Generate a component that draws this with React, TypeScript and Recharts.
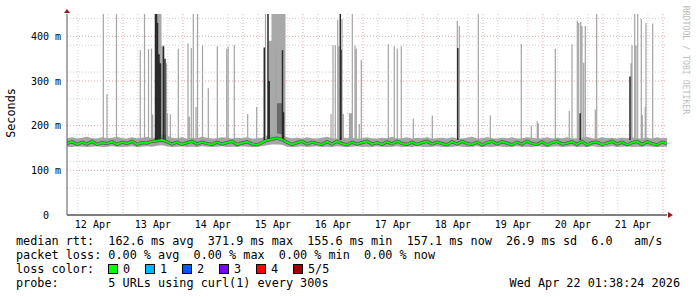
import React from 'react';
import {
  ComposedChart, Line, Area, XAxis, YAxis, CartesianGrid, ReferenceDot,
} from 'recharts';

// time axis in hours since 12 Apr 00:00
const START_H = 1.64;
const END_H = 241.64;
const STEP_H = 2;

const dayLabels = ['12 Apr', '13 Apr', '14 Apr', '15 Apr', '16 Apr', '17 Apr', '18 Apr', '19 Apr', '20 Apr', '21 Apr'];
const dayLabelHours = [12, 36, 60, 84, 108, 132, 156, 180, 204, 228];
const yTicks = [0, 100, 200, 300, 400];
const yTickLabels = ['0  ', '100 m', '200 m', '300 m', '400 m'];

const medianRtt = [
  160, 164, 158, 163, 159, 165, 158, 162, 160, 164,
  158, 163, 160, 165, 158, 162, 161, 165, 166, 168,
  164, 159, 163, 158, 162, 165, 159, 163, 160, 158,
  163, 159, 162, 165, 158, 161, 164, 159, 157, 162,
  167, 170, 172, 169, 163, 158, 162, 165, 159, 163,
  160, 158, 164, 159, 165, 160, 157, 163, 159, 162,
  165, 159, 162, 158, 164, 159, 165, 160, 158, 163,
  158, 162, 165, 159, 163, 160, 157, 164, 159, 165,
  160, 158, 163, 157, 162, 165, 159, 164, 161, 157,
  163, 159, 165, 160, 158, 164, 157, 162, 165, 159,
  161, 164, 158, 165, 157, 162, 163, 158, 161, 165,
  159, 163, 157, 162, 165, 158, 164, 160, 157, 163,
  160,
];
const smokeLow = [
  153, 152, 154, 153, 152, 153, 154, 152, 153, 154,
  153, 152, 153, 154, 152, 153, 154, 153, 155, 156,
  154, 152, 153, 154, 152, 153, 152, 154, 153, 152,
  153, 154, 152, 153, 152, 154, 153, 152, 153, 154,
  156, 158, 158, 157, 153, 152, 153, 154, 152, 153,
  154, 152, 153, 152, 154, 153, 152, 153, 154, 152,
  153, 152, 154, 153, 152, 153, 154, 152, 153, 152,
  154, 153, 152, 153, 154, 152, 153, 152, 154, 153,
  152, 153, 154, 152, 153, 152, 154, 153, 152, 153,
  154, 152, 153, 152, 154, 153, 152, 153, 154, 152,
  153, 154, 152, 153, 152, 154, 153, 152, 153, 154,
  152, 153, 154, 152, 153, 152, 154, 153, 152, 153,
  153,
];
const smokeHigh = [
  172, 174, 171, 173, 175, 172, 171, 174, 172, 173,
  175, 172, 171, 174, 172, 173, 175, 172, 176, 180,
  178, 173, 172, 174, 171, 173, 172, 175, 173, 171,
  172, 174, 173, 171, 173, 172, 174, 171, 172, 173,
  178, 182, 183, 180, 174, 172, 173, 171, 174, 172,
  171, 173, 175, 172, 171, 174, 172, 173, 171, 172,
  174, 172, 171, 173, 172, 175, 171, 172, 174, 171,
  173, 172, 174, 171, 172, 173, 171, 174, 172, 171,
  173, 175, 171, 172, 174, 172, 171, 173, 172, 174,
  171, 172, 174, 173, 171, 172, 174, 171, 173, 172,
  174, 171, 172, 173, 175, 172, 171, 174, 172, 173,
  171, 173, 172, 174, 171, 172, 173, 171, 174, 172,
  173,
];

// [hour, top value]
const lightSpikes: [number, number][] = [
  [16.16, 450], [17.64, 271], [21.44, 450], [30.96, 369], [32.64, 450], [34.24, 371], [35.44, 373], [35.92, 225],
  [39.64, 380], [40.44, 380], [41.44, 340], [41.76, 228], [42.96, 226], [46.16, 372], [50.04, 384], [50.56, 220],
  [51.36, 374], [52.16, 450], [53.24, 242], [53.84, 450], [55.84, 380], [58.16, 284], [61.76, 378], [65.52, 372],
  [66.12, 377], [68.56, 380], [73.92, 226], [77.52, 242], [81.04, 450], [85.24, 380], [107.24, 226], [108.04, 380],
  [108.96, 380], [109.92, 437], [110.44, 378], [111.64, 439], [112.16, 226], [114.64, 228], [115.04, 228], [115.44, 228],
  [115.76, 450], [116.84, 380], [117.36, 372], [118.56, 204], [119.36, 347], [130.16, 383], [132.56, 378], [133.76, 372],
  [135.36, 378], [140.16, 216], [147.76, 223], [157.76, 435], [158.56, 423], [166.16, 450], [170.96, 223], [183.36, 383],
  [187.36, 200], [189.76, 210], [190.16, 205], [196.96, 372], [202.56, 233], [203.64, 382], [205.76, 435], [206.32, 430],
  [207.12, 432], [207.64, 423], [208.32, 341], [208.96, 423], [212.96, 236], [213.52, 450], [227.24, 340], [227.64, 380],
  [228.72, 450], [229.24, 380], [229.92, 450], [231.36, 439], [231.76, 224], [232.96, 242], [233.24, 430], [235.92, 429],
];
const darkSpikes: [number, number][] = [
  [37.04, 450], [37.44, 450], [37.84, 430], [38.44, 360], [39.04, 340], [40.16, 377], [40.84, 350],
  [80.56, 375], [82.04, 450], [82.52, 300], [87.84, 369], [88.24, 230], [110.96, 450], [111.24, 370],
  [157.96, 374], [206.92, 228], [226.84, 310],
];
// [from hour, to hour, low, high]
const lightBursts: [number, number, number, number][] = [
  [37.04, 39.44, 165, 450], [82.24, 83.44, 165, 390], [83.44, 89.04, 165, 450],
];
const midBursts: [number, number, number, number][] = [
  [38.04, 39.24, 165, 300], [85.64, 88.04, 165, 250],
];

const SPIKE_BASE = 168;

const mainData = medianRtt.map((m, i) => ({
  t: START_H + i * STEP_H,
  median: m,
  smoke: [smokeLow[i], smokeHigh[i]],
}));
const spikeLine = (list: [number, number][]) =>
  list.flatMap(([t, top]) => [{ t, v: SPIKE_BASE }, { t, v: top }, { t, v: null }]);
const burstArea = (list: [number, number, number, number][]) =>
  list.flatMap(([a, b, lo, hi]) => [{ t: a, r: [lo, hi] }, { t: b, r: [lo, hi] }, { t: b, r: null }]);

const minorX: number[] = [];
const majorX: number[] = [];
for (let h = 6; h < END_H; h += 6) (h % 24 === 0 ? majorX : minorX).push(h);
const minorY: number[] = [];
for (let v = 20; v <= 440; v += 20) if (v % 100 !== 0) minorY.push(v);
const majorY = [100, 200, 300, 400];

const lossColors = [
  { label: '0', color: '#00ff00' },
  { label: '1', color: '#00b8ff' },
  { label: '2', color: '#0059ff' },
  { label: '3', color: '#7e00ff' },
  { label: '4', color: '#ff0000' },
  { label: '5/5', color: '#a10000' },
];

const MONO = '"DejaVu Sans Mono", monospace';

const YTick = (props: any) => {
  const { x, y, payload } = props;
  const idx = yTicks.indexOf(payload.value);
  return (
    <text x={x} y={y} textAnchor="end" dominantBaseline="central" fontFamily={MONO} fontSize={10} fill="#000" style={{ whiteSpace: 'pre' }}>
      {idx >= 0 ? yTickLabels[idx] : ''}
    </text>
  );
};

const legendLine: React.CSSProperties = {
  position: 'absolute', left: 16, height: 14, lineHeight: '14px', whiteSpace: 'pre',
  fontFamily: MONO, fontSize: 11.8, color: '#000',
};

export default function App() {
  return (
    <div style={{ position: 'absolute', left: 0, top: 0, width: 697, height: 297, background: '#fff', overflow: 'hidden' }}>
      <ComposedChart width={697} height={297} data={mainData} margin={{ top: 14, right: 30, bottom: 62, left: 7 }}>
        <CartesianGrid horizontalValues={minorY} verticalValues={minorX} stroke="#cfcfcf" strokeDasharray="1 2" />
        <CartesianGrid horizontalValues={majorY} verticalValues={majorX} stroke="#e3a3a3" strokeDasharray="1 2" />
        <XAxis dataKey="t" type="number" domain={[START_H, END_H]} ticks={dayLabelHours} allowDataOverflow
          tickFormatter={(v: number) => dayLabels[dayLabelHours.indexOf(v)] ?? ''}
          tickLine={false} tickSize={4} tickMargin={2} stroke="#000"
          tick={{ fontFamily: MONO, fontSize: 10, fill: '#000' }} height={20} />
        <YAxis type="number" domain={[0, 450]} ticks={yTicks} allowDataOverflow width={60}
          tickLine={false} tickSize={4} tickMargin={2} stroke="#555" tick={<YTick />} />
        <Area data={burstArea(lightBursts)} dataKey="r" type="linear" stroke="none" fill="#a8a8a8" fillOpacity={1} isAnimationActive={false} />
        <Line data={spikeLine(lightSpikes)} dataKey="v" type="linear" stroke="#a4a4a4" strokeWidth={1.2} dot={false} activeDot={false} isAnimationActive={false} />
        <Area data={burstArea(midBursts)} dataKey="r" type="linear" stroke="none" fill="#6a6a6a" fillOpacity={1} isAnimationActive={false} />
        <Line data={spikeLine(darkSpikes)} dataKey="v" type="linear" stroke="#2a2a2a" strokeWidth={1.5} dot={false} activeDot={false} isAnimationActive={false} />
        <Area dataKey="smoke" type="linear" stroke="none" fill="#a4a4a4" fillOpacity={1} isAnimationActive={false} />
        <Line dataKey="median" type="linear" stroke="#333" strokeOpacity={0.7} strokeWidth={3.2} dot={false} activeDot={false} isAnimationActive={false} />
        <Line dataKey="median" type="linear" stroke="#00ff00" strokeWidth={1.8} dot={false} activeDot={false} isAnimationActive={false} />
        <ReferenceDot x={START_H} y={450} ifOverflow="visible" shape={(p: any) => (
          <path d={`M${p.cx - 3},${p.cy - 1} L${p.cx + 3},${p.cy - 1} L${p.cx},${p.cy - 5} Z`} fill="#a01414" />
        )} />
        <ReferenceDot x={END_H} y={0} ifOverflow="visible" shape={(p: any) => (
          <path d={`M${p.cx + 1},${p.cy - 3} L${p.cx + 1},${p.cy + 3} L${p.cx + 6},${p.cy} Z`} fill="#a01414" />
        )} />
      </ComposedChart>

      <div style={{ position: 'absolute', left: 11, top: 113, transform: 'translate(-50%, -50%) rotate(-90deg)', fontFamily: MONO, fontSize: 11.8, whiteSpace: 'pre', color: '#000' }}>Seconds</div>
      <div style={{ position: 'absolute', left: 686, top: 60, transform: 'translate(-50%, -50%) rotate(90deg)', fontFamily: MONO, fontSize: 8.2, whiteSpace: 'pre', color: '#bdbdbd' }}>RRDTOOL / TOBI OETIKER</div>

      <div style={{ ...legendLine, top: 234 }}>{'median rtt:  162.6 ms avg  371.9 ms max  155.6 ms min  157.1 ms now  26.9 ms sd  6.0   am/s'}</div>
      <div style={{ ...legendLine, top: 248 }}>{'packet loss: 0.00 % avg  0.00 % max  0.00 % min  0.00 % now'}</div>
      <div style={{ ...legendLine, top: 262 }}>{'loss color:'}</div>
      {lossColors.map((c, i) => (
        <React.Fragment key={c.label}>
          <div style={{ position: 'absolute', left: 108 + i * 37, top: 264, width: 8, height: 8, background: c.color, border: '1px solid #000' }} />
          <div style={{ ...legendLine, left: 123 + i * 37, top: 262 }}>{c.label}</div>
        </React.Fragment>
      ))}
      <div style={{ ...legendLine, top: 276 }}>{'probe:       5 URLs using curl(1) every 300s'}</div>
      <div style={{ ...legendLine, left: undefined, right: 17, top: 276 }}>{'Wed Apr 22 01:38:24 2026'}</div>
    </div>
  );
}
